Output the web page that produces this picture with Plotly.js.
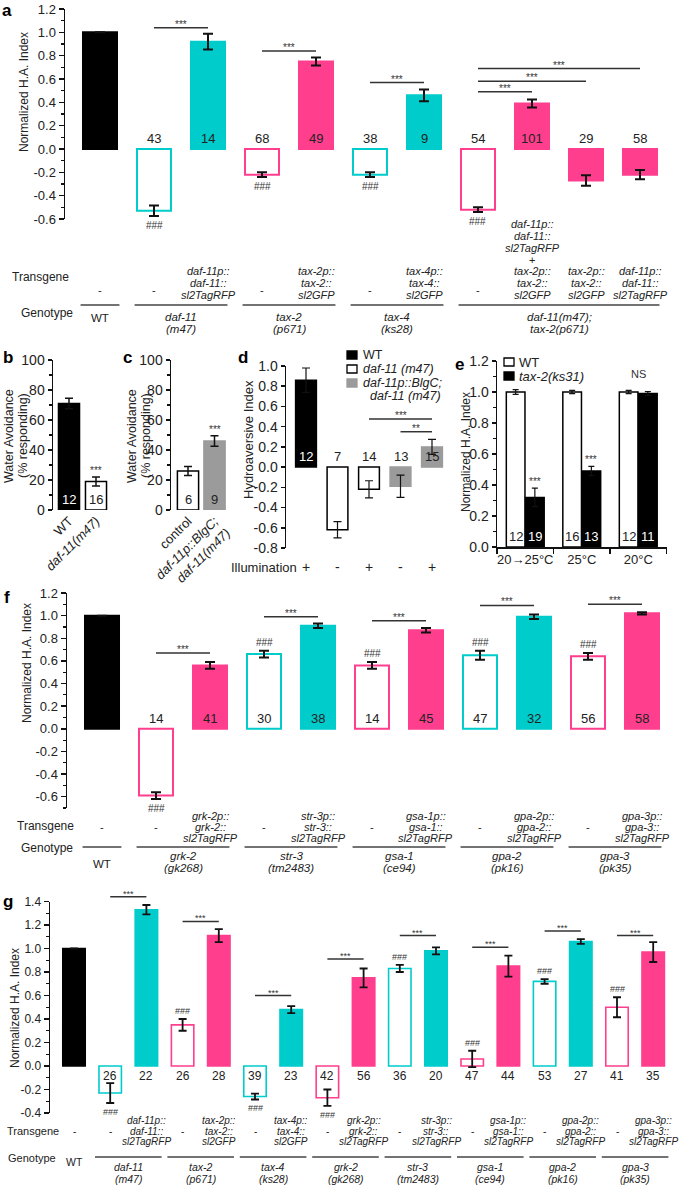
<!DOCTYPE html>
<html>
<head>
<meta charset="utf-8">
<script src="https://cdn.plot.ly/plotly-3.0.1.min.js"></script>
<style>
html,body{margin:0;padding:0;background:#ffffff;}
#chart{width:685px;height:1189px;}
</style>
</head>
<body>
<div id="chart"></div>
<script>
// ===================== DATA =====================
// ---- Panel a ----
const aTransgene = ['-', '-', 'daf-11p::<br>daf-11::<br>sl2TagRFP', '-', 'tax-2p::<br>tax-2::<br>sl2GFP', '-', 'tax-4p::<br>tax-4::<br>sl2GFP', '-', 'daf-11p::<br>daf-11::<br>sl2TagRFP<br>+<br>tax-2p::<br>tax-2::<br>sl2GFP', 'tax-2p::<br>tax-2::<br>sl2GFP', 'daf-11p::<br>daf-11::<br>sl2TagRFP'];
const aGenotypes = ['WT', 'daf-11<br>(m47)', 'tax-2<br>(p671)', 'tax-4<br>(ks28)', 'daf-11(m47);<br>tax-2(p671)'];
const aGenotypeSpan = [[0, 0], [1, 2], [3, 4], [5, 6], [7, 10]];
const aValues = [1.00, -0.53, 0.92, -0.22, 0.75, -0.22, 0.46, -0.52, 0.39, -0.27, -0.22];
const aErrors = [0, 0.045, 0.067, 0.02, 0.035, 0.02, 0.05, 0.02, 0.035, 0.045, 0.04];
const aCounts = ['', '43', '14', '68', '49', '38', '9', '54', '101', '29', '58'];
const aHash = ['', '###', '', '###', '', '###', '', '###', '', '', ''];
const aSigPairs = [[1, 2], [3, 4], [5, 6], [7, 8], [7, 9], [7, 10]];
const aColor = ['k', 't', 't', 'p', 'p', 't', 't', 'p', 'p', 'p', 'p'];
const aOpen = [0, 1, 0, 1, 0, 1, 0, 1, 0, 0, 0];

// ---- Panel b ----
const bLabels = ['WT', '<i>daf-11(m47)</i>'];
const bValues = [71, 19];
const bErrors = [3.5, 3];
const bCounts = ['12', '16'];
const bSig = ['', '***'];
const bStyle = ['k', 'o'];

// ---- Panel c ----
const cLabels = ['control', '<i>daf-11p::BlgC;<br>daf-11(m47)</i>'];
const cValues = [26, 46];
const cErrors = [3, 3.5];
const cCounts = ['6', '9'];
const cSig = ['', '***'];
const cStyle = ['o', 'g'];

// ---- Panel d ----
const dIllumination = ['+', '-', '+', '-', '+'];
const dValues = [0.86, -0.62, -0.22, -0.19, 0.20];
const dErrors = [0.12, 0.08, 0.085, 0.11, 0.075];
const dCounts = ['12', '7', '14', '13', '15'];
const dStyle = ['k', 'o', 'o', 'g', 'g'];
const dLegend = ['WT', '<i>daf-11 (m47)</i>', '<i>daf-11p::BlgC;</i>', '<i>daf-11 (m47)</i>'];
const dSigPairs = [[2, 4], [3, 4]];
const dSigText = ['***', '**'];

// ---- Panel e ----
const eCategories = ['20→25°C', '25°C', '20°C'];
const eWT = [1.00, 1.00, 1.00];
const eWTErr = [0.015, 0.01, 0.01];
const eTax = [0.32, 0.49, 0.99];
const eTaxErr = [0.06, 0.03, 0.012];
const eWTCounts = ['12', '16', '12'];
const eTaxCounts = ['19', '13', '11'];
const eSig = ['***', '***', 'NS'];
const eLegend = ['WT', '<i>tax-2(ks31)</i>'];

// ---- Panel f ----
const fTransgene = ['-', '-', 'grk-2p::<br>grk-2::<br>sl2TagRFP', '-', 'str-3p::<br>str-3::<br>sl2TagRFP', '-', 'gsa-1p::<br>gsa-1::<br>sl2TagRFP', '-', 'gpa-2p::<br>gpa-2::<br>sl2TagRFP', '-', 'gpa-3p::<br>gpa-3::<br>sl2TagRFP'];
const fGenotypes = ['WT', 'grk-2<br>(gk268)', 'str-3<br>(tm2483)', 'gsa-1<br>(ce94)', 'gpa-2<br>(pk16)', 'gpa-3<br>(pk35)'];
const fGenotypeSpan = [[0, 0], [1, 2], [3, 4], [5, 6], [7, 8], [9, 10]];
const fValues = [1.00, -0.59, 0.56, 0.66, 0.91, 0.56, 0.87, 0.65, 0.99, 0.64, 1.02];
const fErrors = [0, 0.03, 0.03, 0.03, 0.02, 0.03, 0.02, 0.04, 0.02, 0.03, 0.01];
const fCounts = ['', '14', '41', '30', '38', '14', '45', '47', '32', '56', '58'];
const fHash = ['', '###', '', '###', '', '###', '', '###', '', '###', ''];
const fSigPairs = [[1, 2], [3, 4], [5, 6], [7, 8], [9, 10]];
const fColor = ['k', 'p', 'p', 't', 't', 'p', 'p', 't', 't', 'p', 'p'];
const fOpen = [0, 1, 0, 1, 0, 1, 0, 1, 0, 1, 0];

// ---- Panel g ----
const gTransgene = ['-', '-', 'daf-11p::<br>daf-11::<br>sl2TagRFP', '-', 'tax-2p::<br>tax-2::<br>sl2GFP', '-', 'tax-4p::<br>tax-4::<br>sl2GFP', '-', 'grk-2p::<br>grk-2::<br>sl2TagRFP', '-', 'str-3p::<br>str-3::<br>sl2TagRFP', '-', 'gsa-1p::<br>gsa-1::<br>sl2TagRFP', '-', 'gpa-2p::<br>gpa-2::<br>sl2TagRFP', '-', 'gpa-3p::<br>gpa-3::<br>sl2TagRFP'];
const gGenotypes = ['WT', 'daf-11<br>(m47)', 'tax-2<br>(p671)', 'tax-4<br>(ks28)', 'grk-2<br>(gk268)', 'str-3<br>(tm2483)', 'gsa-1<br>(ce94)', 'gpa-2<br>(pk16)', 'gpa-3<br>(pk35)'];
const gGenotypeSpan = [[0, 0], [1, 2], [3, 4], [5, 6], [7, 8], [9, 10], [11, 12], [13, 14], [15, 16]];
const gValues = [1.00, -0.23, 1.33, 0.35, 1.11, -0.26, 0.48, -0.27, 0.75, 0.83, 0.98, 0.06, 0.85, 0.72, 1.06, 0.50, 0.97];
const gErrors = [0, 0.085, 0.04, 0.05, 0.055, 0.025, 0.03, 0.07, 0.08, 0.03, 0.03, 0.07, 0.09, 0.02, 0.02, 0.085, 0.085];
const gCounts = ['', '26', '22', '26', '28', '39', '23', '42', '56', '36', '20', '47', '44', '53', '27', '41', '35'];
const gHash = ['', '###', '', '###', '', '###', '', '###', '', '###', '', '###', '', '###', '', '###', ''];
const gSigPairs = [[1, 2], [3, 4], [5, 6], [7, 8], [9, 10], [11, 12], [13, 14], [15, 16]];
const gColor = ['k', 't', 't', 'p', 'p', 't', 't', 'p', 'p', 't', 't', 'p', 'p', 't', 't', 'p', 'p'];
const gOpen = [0, 1, 0, 1, 0, 1, 0, 1, 0, 1, 0, 1, 0, 1, 0, 1, 0];

// ===================== LAYOUT / STYLE =====================
const W = 685, H = 1189;
const FONT = 'Arial, "Liberation Sans", Helvetica, sans-serif';
const TXT = '#222222';
const COL = {k: '#000000', t: '#00CCCC', p: '#FF3F8E', g: '#9B9B9B', o: '#000000'};

// significance bar heights (layout, in data units of each panel)
const aSigLevel = [1.04, 0.84, 0.57, 0.49, 0.58, 0.69];
const dSigLevel = [0.475, 0.35];
const fSigLevel = [0.67, 0.99, 0.955, 1.09, 1.10];
const gSigLevel = [1.44, 1.23, 0.60, 0.91, 1.11, 1.01, 1.15, 1.11];

// panel geometry (pixels)
const PA = {xa: 'x',  ya: 'y',  xd: [65, 680],  c0: 100, sp: 54,   yd: [9, 219],     yr: [-0.6, 1.2]};
const PB = {xa: 'x2', ya: 'y2', xd: [53, 115],  c0: 69,  sp: 27,   yd: [360, 510],   yr: [0, 100]};
const PC = {xa: 'x3', ya: 'y3', xd: [171, 236], c0: 188, sp: 26.5, yd: [360, 510],   yr: [0, 100]};
const PD = {xa: 'x4', ya: 'y4', xd: [286, 452], c0: 306, sp: 31.5, yd: [366, 548],   yr: [-0.8, 1.0]};
const PE = {xa: 'x5', ya: 'y5', xd: [497, 666.5], c0: 525.25, sp: 56.5, yd: [361, 547], yr: [0, 1.2]};
const PF = {xa: 'x6', ya: 'y6', xd: [67, 680],  c0: 102, sp: 54,   yd: [593, 808],   yr: [-0.7, 1.2]};
const PG = {xa: 'x7', ya: 'y7', xd: [50, 680],  c0: 74,  sp: 36.2, yd: [901.5, 1113], yr: [-0.4, 1.4]};

function X(p, i) { return (p.c0 + p.sp * i) / W; }
function Yv(p, v) { const t = p.yd[0], b = p.yd[1], lo = p.yr[0], hi = p.yr[1]; return 1 - (b - (v - lo) / (hi - lo) * (b - t)) / H; }
function Xp(px) { return px / W; }
function Yp(py) { return 1 - py / H; }

const annotations = [], shapes = [], data = [];
function txt(x, y, text, o) {
  o = o || {};
  annotations.push({xref: 'paper', yref: 'paper', x: x, y: y, text: text, showarrow: false,
    xanchor: o.xa || 'center', yanchor: o.ya || 'middle', yshift: o.ys || 0, xshift: o.xs || 0,
    textangle: o.ang || 0, borderpad: 0,
    font: {family: FONT, size: o.size || 12, color: o.color || TXT}});
}
function seg(x0, y0, x1, y1, w, c) {
  shapes.push({type: 'line', xref: 'paper', yref: 'paper', x0: x0, y0: y0, x1: x1, y1: y1, line: {color: c || '#222', width: w || 1.5}});
}
function box(x0, y0, x1, y1, fill, lc) {
  shapes.push({type: 'rect', xref: 'paper', yref: 'paper', x0: x0, y0: y0, x1: x1, y1: y1, fillcolor: fill, line: {color: lc || fill, width: 1.3}});
}

function xAxis(p, extra) {
  return Object.assign({domain: [p.xd[0] / W, p.xd[1] / W], range: [(p.xd[0] - p.c0) / p.sp, (p.xd[1] - p.c0) / p.sp],
    anchor: p.ya, showline: false, showgrid: false, zeroline: false, ticks: '', showticklabels: false, fixedrange: true}, extra || {});
}
function tickArr(lo, hi, step, dec) {
  const v = [], t = [];
  const k0 = Math.ceil(lo / step - 1e-6), k1 = Math.floor(hi / step + 1e-6);
  for (let k = k0; k <= k1; k++) { const x = Math.round(k * step * 1000) / 1000; v.push(x); t.push(x.toFixed(dec)); }
  return {v: v, t: t};
}
function yAxis(p, step, dec, minorStep, fs, tl) {
  const tk = tickArr(p.yr[0], p.yr[1], step, dec);
  const ax = {domain: [1 - p.yd[1] / H, 1 - p.yd[0] / H], range: p.yr, anchor: p.xa,
    showline: true, linecolor: '#111', linewidth: 1.5, ticks: 'outside', ticklen: tl || 5, tickwidth: 1.5, tickcolor: '#111',
    tickmode: 'array', tickvals: tk.v, ticktext: tk.t, showgrid: false, zeroline: false, fixedrange: true,
    tickfont: {family: FONT, size: fs, color: TXT}};
  if (minorStep) {
    const mk = tickArr(p.yr[0], p.yr[1], minorStep, 2);
    ax.minor = {tickmode: 'array', tickvals: mk.v, ticks: 'outside', ticklen: 3, tickwidth: 1.2, tickcolor: '#111', showgrid: false};
  }
  return ax;
}
function fillOf(c, open) { return open ? '#ffffff' : COL[c]; }
function bars(p, xs, vals, errs, fills, lines, o) {
  const tr = {type: 'bar', xaxis: p.xa, yaxis: p.ya, x: xs, y: vals, width: o.w,
    marker: {color: fills, line: {color: lines, width: o.lw}},
    error_y: {type: 'data', array: errs.map(e => e > 0 ? e : null), visible: true, color: '#111', thickness: o.et, width: o.ew},
    hoverinfo: 'skip', showlegend: false};
  if (o.off !== undefined) tr.offset = o.off;
  data.push(tr);
}
function counts(p, cnts, vals, isDark, fs, below, dx) {
  cnts.forEach((c, i) => {
    if (!c) return;
    const x = X(p, i + (dx || 0));
    if (below) txt(x, Yv(p, 0), c, {ya: 'top', ys: -2, size: fs, color: isDark(i) ? '#fff' : TXT});
    else txt(x, Yv(p, 0), c, {ya: 'bottom', ys: 2, size: fs, color: isDark(i) ? '#fff' : TXT});
  });
}
function hashes(p, h, vals, errs, fs) {
  h.forEach((s, i) => {
    if (!s) return;
    if (vals[i] < 0) txt(X(p, i), Yv(p, vals[i] - errs[i]), s, {ya: 'top', ys: -3, size: fs, color: '#333'});
    else txt(X(p, i), Yv(p, vals[i] + errs[i]), s, {ya: 'bottom', ys: 2, size: fs, color: '#333'});
  });
}
function sigs(p, pairs, levels, texts, fs) {
  pairs.forEach((pr, k) => {
    const y = Yv(p, levels[k]);
    seg(X(p, pr[0]), y, X(p, pr[1]), y, 1.5, '#333');
    txt((X(p, pr[0]) + X(p, pr[1])) / 2, y, texts ? texts[k] : '***', {ya: 'bottom', ys: -3, size: fs, color: '#333'});
  });
}
function transgene(p, tg, yRef, spacing, mode, fs) {
  tg.forEach((t, i) => {
    const lines = t.split('<br>');
    lines.forEach((s, k) => {
      let y;
      if (lines.length === 1) y = mode === 'bottom' ? yRef - 5 : yRef;
      else if (mode === 'bottom') y = yRef - (lines.length - 1 - k) * spacing;
      else y = yRef + (k - (lines.length - 1) / 2) * spacing;
      txt(X(p, i), Yp(y), s === '-' || s === '+' ? s : '<i>' + s + '</i>', {size: fs});
    });
  });
}
function genotypes(p, names, spans, lineY, hw, nameY, wtY, gap, fs, wtLine) {
  names.forEach((nm, g) => {
    const i = spans[g][0], j = spans[g][1];
    const xc = (X(p, i) + X(p, j)) / 2;
    if (nm === 'WT') {
      if (wtLine) seg(X(p, i - hw), Yp(lineY), X(p, j + hw), Yp(lineY), 1.5, '#444');
      txt(xc, Yp(wtY), 'WT', {size: fs});
      return;
    }
    seg(X(p, i - hw), Yp(lineY), X(p, j + hw), Yp(lineY), 1.5, '#444');
    nm.split('<br>').forEach((s, k) => txt(xc, Yp(nameY + k * gap), '<i>' + s + '</i>', {size: fs}));
  });
}

// ---------- Panel a ----------
bars(PA, aValues.map((v, i) => i), aValues, aErrors, aColor.map((c, i) => fillOf(c, aOpen[i])), aColor.map(c => COL[c]), {w: 0.63, lw: 2, et: 2, ew: 5});
counts(PA, aCounts, aValues, i => aColor[i] === 'k', 13, false);
hashes(PA, aHash, aValues, aErrors, 10);
sigs(PA, aSigPairs, aSigLevel, null, 10);
transgene(PA, aTransgene, 295, 11.8, 'bottom', 11);
txt(Xp(40), Yp(277), 'Transgene', {size: 12});
txt(Xp(47), Yp(313), 'Genotype', {size: 12});
genotypes(PA, aGenotypes, aGenotypeSpan, 305, 0.36, 317, 318, 12, 11.5, true);
txt(Xp(24), Yp(92), 'Normalized H.A. Index', {ang: -90, size: 12});
txt(Xp(7), Yp(11), '<b>a</b>', {size: 17, color: '#000'});

// ---------- Panel b ----------
bars(PB, bValues.map((v, i) => i), bValues, bErrors, bStyle.map(s => s === 'o' ? '#fff' : COL[s]), bStyle.map(s => COL[s]), {w: 0.78, lw: 1.5, et: 1.5, ew: 4});
counts(PB, bCounts, bValues, i => bStyle[i] === 'k', 13, false);
bSig.forEach((s, i) => { if (s) txt(X(PB, i), Yv(PB, bValues[i] + bErrors[i]), s, {ya: 'bottom', ys: 0, size: 10, color: '#333'}); });
txt(Xp(9), Yp(436), 'Water Avoidance', {ang: -90, size: 12.5});
txt(Xp(23), Yp(436), '(% responding)', {ang: -90, size: 12.5});
txt(Xp(8), Yp(357), '<b>b</b>', {size: 17, color: '#000'});

// ---------- Panel c ----------
bars(PC, cValues.map((v, i) => i), cValues, cErrors, cStyle.map(s => s === 'o' ? '#fff' : COL[s]), cStyle.map(s => COL[s]), {w: 0.8, lw: 1.5, et: 1.5, ew: 4});
counts(PC, cCounts, cValues, i => cStyle[i] === 'k', 13, false);
cSig.forEach((s, i) => { if (s) txt(X(PC, i), Yv(PC, cValues[i] + cErrors[i]), s, {ya: 'bottom', ys: 0, size: 10, color: '#333'}); });
txt(Xp(132), Yp(436), 'Water Avoidance', {ang: -90, size: 12.5});
txt(Xp(146), Yp(436), '(% responding)', {ang: -90, size: 12.5});
txt(Xp(127), Yp(357), '<b>c</b>', {size: 17, color: '#000'});

// ---------- Panel d ----------
bars(PD, dValues.map((v, i) => i), dValues, dErrors, dStyle.map(s => s === 'o' ? '#fff' : COL[s]), dStyle.map(s => COL[s]), {w: 0.66, lw: 1.5, et: 1.2, ew: 4});
counts(PD, dCounts, dValues, i => dStyle[i] === 'k', 13, false);
sigs(PD, dSigPairs, dSigLevel, dSigText, 10);
txt(Xp(298), Yp(567), 'Illumination', {xa: 'right', size: 13});
dIllumination.forEach((s, i) => txt(X(PD, i), Yp(567), s, {size: 14, color: TXT}));
txt(Xp(248), Yp(440), 'Hydroaversive Index', {ang: -90, size: 13});
txt(Xp(243), Yp(357), '<b>d</b>', {size: 17, color: '#000'});
// legend d
const dLegRows = [355, 369, 383, 396];
[['k', dLegRows[0]], ['o', dLegRows[1]], ['g', dLegRows[2]]].forEach((r) => {
  box(Xp(347), Yp(r[1] - 4), Xp(357), Yp(r[1] + 4), r[0] === 'o' ? '#fff' : COL[r[0]], r[0] === 'g' ? COL.g : '#000');
});
txt(Xp(362), Yp(dLegRows[0]), dLegend[0], {xa: 'left', size: 12.5});
txt(Xp(362), Yp(dLegRows[1]), dLegend[1], {xa: 'left', size: 12.5});
txt(Xp(362), Yp(dLegRows[2]), dLegend[2], {xa: 'left', size: 12.5});
txt(Xp(369), Yp(dLegRows[3]), dLegend[3], {xa: 'left', size: 12.5});

// ---------- Panel e ----------
bars(PE, eCategories, eWT, eWTErr, eWT.map(() => '#fff'), eWT.map(() => '#000'), {w: 0.33, off: -0.335, lw: 1.5, et: 1.2, ew: 3});
bars(PE, eCategories, eTax, eTaxErr, eTax.map(() => '#000'), eTax.map(() => '#000'), {w: 0.33, off: 0.005, lw: 1.5, et: 1.2, ew: 3});
counts(PE, eWTCounts, eWT, () => false, 13, false, -0.17);
counts(PE, eTaxCounts, eTax, () => true, 13, false, 0.17);
eSig.forEach((s, i) => {
  if (s === 'NS') txt(X(PE, i), Yv(PE, Math.max(eWT[i] + eWTErr[i], eTax[i] + eTaxErr[i])), s, {ya: 'bottom', ys: 9, size: 11, color: '#333'});
  else txt(X(PE, i + 0.17), Yv(PE, eTax[i] + eTaxErr[i]), s, {ya: 'bottom', ys: 0, size: 10, color: '#333'});
});
box(Xp(504), Yp(358), Xp(514), Yp(366), '#fff', '#000');
box(Xp(504), Yp(372), Xp(514), Yp(380), '#000', '#000');
txt(Xp(518), Yp(362), eLegend[0], {xa: 'left', size: 13});
txt(Xp(518), Yp(376), eLegend[1], {xa: 'left', size: 13});
txt(Xp(466), Yp(452), 'Normalized H.A. Index', {ang: -90, size: 12});
txt(Xp(459), Yp(364), '<b>e</b>', {size: 17, color: '#000'});

// ---------- Panel f ----------
bars(PF, fValues.map((v, i) => i), fValues, fErrors, fColor.map((c, i) => fillOf(c, fOpen[i])), fColor.map(c => COL[c]), {w: 0.63, lw: 2, et: 2, ew: 5});
counts(PF, fCounts, fValues, i => fColor[i] === 'k', 13, false);
hashes(PF, fHash, fValues, fErrors, 10);
sigs(PF, fSigPairs, fSigLevel, null, 10);
transgene(PF, fTransgene, 827, 11, 'center', 11);
txt(Xp(45), Yp(826), 'Transgene', {size: 12});
txt(Xp(47), Yp(848), 'Genotype', {size: 12});
genotypes(PF, fGenotypes, fGenotypeSpan, 847, 0.36, 856, 864, 12, 11.5, true);
txt(Xp(27), Yp(663), 'Normalized H.A. Index', {ang: -90, size: 12});
txt(Xp(7), Yp(598), '<b>f</b>', {size: 17, color: '#000'});

// ---------- Panel g ----------
bars(PG, gValues.map((v, i) => i), gValues, gErrors, gColor.map((c, i) => fillOf(c, gOpen[i])), gColor.map(c => COL[c]), {w: 0.62, lw: 1.6, et: 1.8, ew: 4});
counts(PG, gCounts, gValues, i => gColor[i] === 'k', 12, true);
hashes(PG, gHash, gValues, gErrors, 9);
sigs(PG, gSigPairs, gSigLevel, null, 9);
transgene(PG, gTransgene, 1131, 10.5, 'center', 10);
txt(Xp(33), Yp(1131), 'Transgene', {size: 11});
txt(Xp(32), Yp(1158), 'Genotype', {size: 11});
genotypes(PG, gGenotypes, gGenotypeSpan, 1157, 0.42, 1167, 1162, 11.5, 10.5, false);
txt(Xp(15), Yp(1008), 'Normalized H.A. Index', {ang: -90, size: 12});
txt(Xp(8), Yp(901), '<b>g</b>', {size: 17, color: '#000'});

const layout = {
  width: W, height: H, margin: {l: 0, r: 0, t: 0, b: 0}, autosize: false,
  paper_bgcolor: '#ffffff', plot_bgcolor: 'rgba(0,0,0,0)', showlegend: false, barmode: 'overlay',
  font: {family: FONT, color: TXT},
  xaxis: xAxis(PA), yaxis: yAxis(PA, 0.2, 1, 0.1, 13),
  xaxis2: xAxis(PB, {showticklabels: true, tickmode: 'array', tickvals: bLabels.map((l, i) => i), ticktext: bLabels, tickangle: -45, tickfont: {family: FONT, size: 13, color: TXT}}),
  yaxis2: yAxis(PB, 20, 0, 10, 14, 4),
  xaxis3: xAxis(PC, {showticklabels: true, tickmode: 'array', tickvals: cLabels.map((l, i) => i), ticktext: cLabels, tickangle: -45, tickfont: {family: FONT, size: 13, color: TXT}}),
  yaxis3: yAxis(PC, 20, 0, 10, 14, 4),
  xaxis4: xAxis(PD), yaxis4: yAxis(PD, 0.2, 1, null, 14, 4),
  xaxis5: {domain: [PE.xd[0] / W, PE.xd[1] / W], anchor: 'y5', type: 'category', categoryarray: eCategories, categoryorder: 'array',
    range: [-0.5, 2.5], showline: true, linecolor: '#111', linewidth: 1.5, ticks: 'outside', tickson: 'boundaries', ticklen: 5, tickwidth: 1.5,
    tickangle: 0, tickcolor: '#111', showgrid: false, zeroline: false, fixedrange: true, tickfont: {family: FONT, size: 13, color: TXT}},
  yaxis5: yAxis(PE, 0.2, 1, 0.1, 14, 4),
  xaxis6: xAxis(PF), yaxis6: yAxis(PF, 0.2, 1, 0.1, 13),
  xaxis7: xAxis(PG), yaxis7: yAxis(PG, 0.2, 1, 0.1, 12),
  annotations: annotations, shapes: shapes
};

Plotly.newPlot('chart', data, layout, {staticPlot: true, displayModeBar: false});
</script>
</body>
</html>
